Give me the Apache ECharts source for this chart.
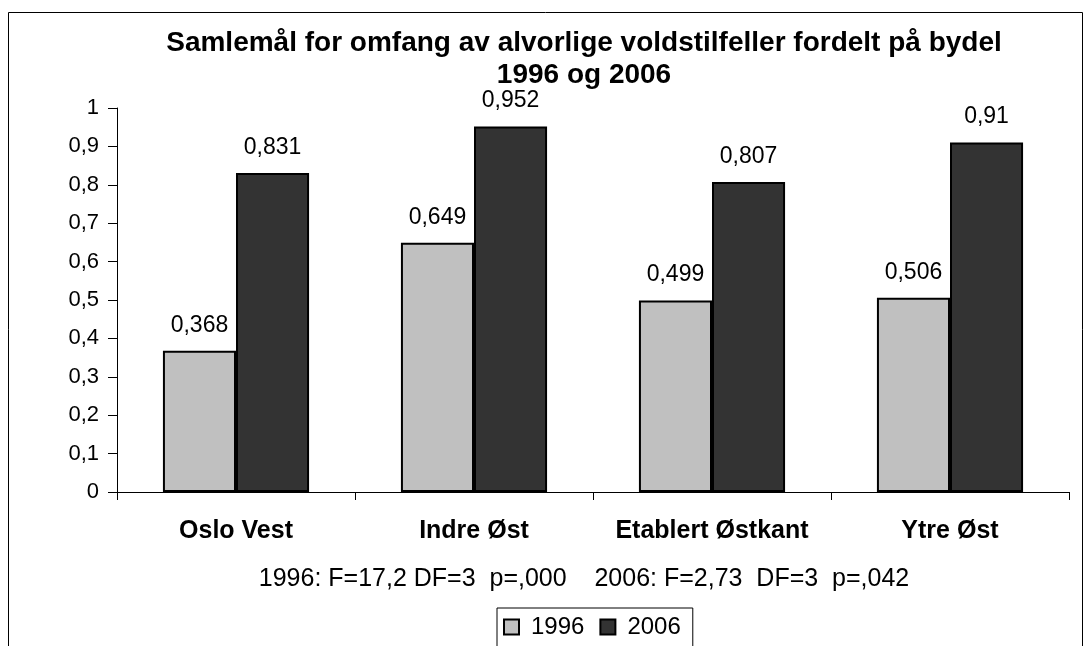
<!DOCTYPE html>
<html>
<head>
<meta charset="utf-8">
<script src="https://cdn.jsdelivr.net/npm/echarts@6/dist/echarts.min.js"></script>
<style>
  html, body { margin: 0; padding: 0; background: #fff; }
  #chart { width: 1091px; height: 646px; }
</style>
</head>
<body>
<div id="chart"></div>
<script>
// data
const categories = ['Oslo Vest', 'Indre Øst', 'Etablert Østkant', 'Ytre Øst']
const values1996 = [0.368, 0.649, 0.499, 0.506]
const values2006 = [0.831, 0.952, 0.807, 0.91]
const seriesNames = ['1996', '2006']

const fmt = (v) => String(v).replace('.', ',')

const myEcharts = echarts.init(document.getElementById('chart'))
const font = 'Liberation Sans, Arial, sans-serif'

const option = {
  backgroundColor: '#fff',
  animation: false,
  textStyle: { fontFamily: font },
  grid: { left: 117, right: 22, top: 108, bottom: 154 },
  legend: {
    data: seriesNames,
    top: 608,
    left: 497,
    padding: [7, 12, 14, 6],
    borderColor: '#000',
    borderWidth: 1,
    itemWidth: 15,
    itemHeight: 15,
    itemGap: 15,
    icon: 'rect',
    textStyle: { fontSize: 24, color: '#000', fontFamily: font, padding: [0, 0, 0, 7] }
  },
  xAxis: {
    type: 'category',
    data: categories,
    axisLine: { lineStyle: { color: '#000', width: 1 } },
    axisTick: { show: true, interval: 0, length: 8, inside: false, lineStyle: { color: '#000' } },
    axisLabel: { interval: 0, fontSize: 25, fontWeight: 'bold', color: '#000', margin: 27, fontFamily: font }
  },
  yAxis: {
    type: 'value',
    min: 0,
    max: 1,
    interval: 0.1,
    splitLine: { show: false },
    axisLine: { show: true, lineStyle: { color: '#000', width: 1 } },
    axisTick: { show: true, length: 9, lineStyle: { color: '#000' } },
    axisLabel: {
      fontSize: 22, color: '#000', margin: 18, fontFamily: font,
      formatter: (v) => fmt(Math.round(v * 10) / 10)
    }
  },
  series: [
    {
      name: seriesNames[0],
      type: 'bar',
      data: values1996,
      barWidth: '30.7%',
      barGap: '0%',
      itemStyle: { color: '#c0c0c0', borderColor: '#000', borderWidth: 2 },
      label: { show: true, position: 'top', distance: 14, fontSize: 23, color: '#000', fontFamily: font, formatter: (p) => fmt(p.value) }
    },
    {
      name: seriesNames[1],
      type: 'bar',
      data: values2006,
      barWidth: '30.7%',
      barGap: '0%',
      itemStyle: { color: '#333333', borderColor: '#000', borderWidth: 2 },
      label: { show: true, position: 'top', distance: 14, fontSize: 23, color: '#000', fontFamily: font, formatter: (p) => fmt(p.value) }
    }
  ],
  graphic: [
    {
      type: 'rect',
      shape: { x: 8.5, y: 12.5, width: 1074, height: 660 },
      style: { fill: 'none', stroke: '#000', lineWidth: 1 },
      silent: true,
      z: -1
    },
    {
      // title
      type: 'text',
      x: 584,
      y: 27,
      style: {
        text: 'Samlemål for omfang av alvorlige voldstilfeller fordelt på bydel\n1996 og 2006',
        align: 'center',
        verticalAlign: 'top',
        fontSize: 28,
        fontWeight: 'bold',
        lineHeight: 32,
        fill: '#000',
        fontFamily: font
      }
    },
    {
      type: 'text',
      x: 584,
      y: 567,
      style: {
        text: '1996: F=17,2 DF=3  p=,000    2006: F=2,73  DF=3  p=,042',
        align: 'center',
        verticalAlign: 'top',
        fontSize: 25,
        fill: '#000',
        fontFamily: font
      }
    }
  ]
}
myEcharts.setOption(option)
</script>
</body>
</html>
